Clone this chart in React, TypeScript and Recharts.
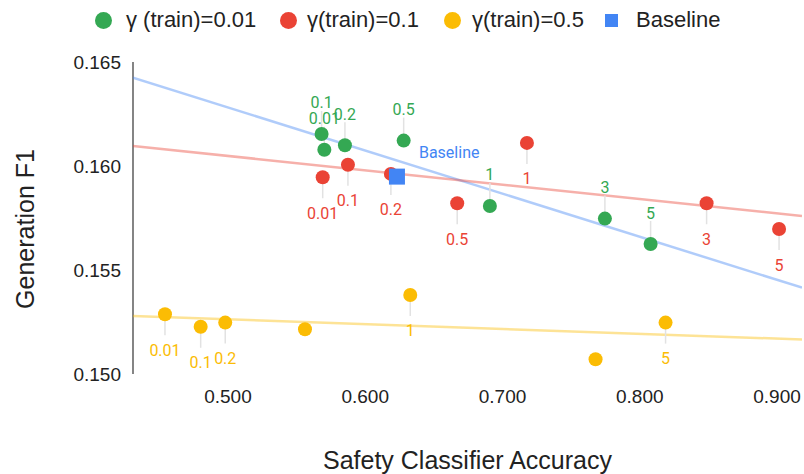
import { Scatter, ScatterChart, XAxis, YAxis } from "recharts";

// gamma (train) values, safety accuracy and generation F1 per series
const greenGamma = ["0.01", "0.1", "0.2", "0.5", "1", "3", "5"];
const greenAcc = [0.5702, 0.5682, 0.5852, 0.628, 0.6908, 0.7746, 0.8079];
const greenF1 = [0.16078, 0.16154, 0.161, 0.16122, 0.15808, 0.15747, 0.15625];

const redGamma = ["0.01", "0.1", "0.2", "0.5", "1", "3", "5"];
const redAcc = [0.569, 0.5874, 0.6187, 0.667, 0.7178, 0.8487, 0.9015];
const redF1 = [0.15946, 0.16006, 0.15962, 0.15821, 0.16111, 0.15821, 0.15697];

// labels that are hidden in the chart are left blank
const yellowGamma = ["0.01", "0.1", "0.2", "", "1", "", "5"];
const yellowAcc = [0.4541, 0.4801, 0.498, 0.5561, 0.6328, 0.7678, 0.8188];
const yellowF1 = [0.15287, 0.15227, 0.15247, 0.15215, 0.1538, 0.15071, 0.15247];

const baselineAcc = [0.6231];
const baselineF1 = [0.15949];

// trend line end points
const trendAcc = [0.4308, 0.9182];
const greenTrendF1 = [0.16425, 0.15415];
const redTrendF1 = [0.16096, 0.1576];
const yellowTrendF1 = [0.15279, 0.15166];

const xTicks = [0.5, 0.6, 0.7, 0.8, 0.9];
const yTicks = [0.15, 0.155, 0.16, 0.165];

const colors = {
  green: "#34A853",
  red: "#EA4335",
  yellow: "#FBBC04",
  blue: "#4285F4",
};

const legendItems = [
  { name: "γ (train)=0.01", color: colors.green, shape: "circle" },
  { name: "γ(train)=0.1", color: colors.red, shape: "circle" },
  { name: "γ(train)=0.5", color: colors.yellow, shape: "circle" },
  { name: "Baseline", color: colors.blue, shape: "square" },
];
const legendMarkerX = [103, 288, 452, 611];
const legendTextX = [126, 307, 472, 636];

const toPoints = (xs: number[], ys: number[], labels?: string[]) =>
  xs.map((x, i) => ({ x, y: ys[i], label: labels ? labels[i] : "" }));

const sansFont = "'Liberation Sans', Arial, sans-serif";
const labelFont = "Roboto, 'Noto Sans', sans-serif";

function makeDot(color: string, side: "above" | "below") {
  return (p: any) => {
    const { cx, cy, payload } = p;
    const label = payload?.label;
    const dir = side === "above" ? -1 : 1;
    return (
      <g>
        {label ? (
          <line
            x1={cx}
            y1={cy}
            x2={cx}
            y2={cy + dir * (side === "above" ? 23 : 21)}
            stroke="#e2e2e2"
            strokeWidth={1.5}
          />
        ) : null}
        <circle cx={cx} cy={cy} r={7} fill={color} />
        {label ? (
          <text
            x={cx}
            y={cy + (side === "above" ? -31 : 36)}
            textAnchor="middle"
            dominantBaseline="central"
            fill={color}
            fontSize={16}
            fontFamily={labelFont}
          >
            {label}
          </text>
        ) : null}
      </g>
    );
  };
}

const baselineShape = (p: any) => {
  const { cx, cy } = p;
  return (
    <g>
      <rect x={cx - 8} y={cy - 8} width={16} height={16} fill={colors.blue} />
      <text
        x={cx + 22}
        y={cy - 24}
        dominantBaseline="central"
        fill={colors.blue}
        fontSize={16}
        fontFamily={labelFont}
      >
        Baseline
      </text>
    </g>
  );
};

const noShape = () => <g />;

export default function App() {
  return (
    <div
      style={{
        position: "fixed",
        left: 0,
        top: 0,
        width: 804,
        height: 474,
        background: "#fff",
        fontFamily: sansFont,
      }}
    >
      {legendItems.map((item, i) => {
        const size = item.shape === "circle" ? 17 : 13;
        return (
          <div key={item.name}>
            <div
              style={{
                position: "absolute",
                left: legendMarkerX[i] - size / 2,
                top: 20.5 - size / 2,
                width: size,
                height: size,
                borderRadius: item.shape === "circle" ? "50%" : 0,
                background: item.color,
              }}
            />
            <div
              style={{
                position: "absolute",
                left: legendTextX[i],
                top: 7,
                fontSize: 22,
                lineHeight: "26px",
                color: "#222",
                whiteSpace: "nowrap",
              }}
            >
              {item.name}
            </div>
          </div>
        );
      })}
      <ScatterChart
        width={804}
        height={474}
        margin={{ top: 62, right: 2, bottom: 0, left: 0 }}
      >
        <XAxis
          type="number"
          dataKey="x"
          domain={[trendAcc[0], trendAcc[1]]}
          ticks={xTicks}
          tickFormatter={(v: number) => v.toFixed(3)}
          allowDataOverflow
          axisLine={false}
          tickLine={false}
          tickMargin={10}
          height={100}
          tick={{ fontSize: 19, fill: "#222", fontFamily: sansFont }}
          label={(props: any) => {
            const vb = props.viewBox || {};
            return (
              <text
                x={vb.x + vb.width / 2}
                y={vb.y + 86}
                textAnchor="middle"
                dominantBaseline="central"
                fontSize={25}
                fill="#222"
                fontFamily={sansFont}
              >
                Safety Classifier Accuracy
              </text>
            );
          }}
        />
        <YAxis
          type="number"
          dataKey="y"
          domain={[0.15, 0.165]}
          ticks={yTicks}
          tickFormatter={(v: number) => v.toFixed(3)}
          allowDataOverflow
          width={133}
          axisLine={{ stroke: "#333", strokeWidth: 1.2 }}
          tickLine={false}
          tickMargin={6}
          tick={{ fontSize: 19, fill: "#222", fontFamily: sansFont }}
          label={(props: any) => {
            const vb = props.viewBox || {};
            const cy = vb.y + vb.height / 2 + 11;
            return (
              <text
                x={25}
                y={cy}
                transform={`rotate(-90 25 ${cy})`}
                textAnchor="middle"
                dominantBaseline="central"
                fontSize={25}
                fill="#222"
                fontFamily={sansFont}
              >
                Generation F1
              </text>
            );
          }}
        />
        <Scatter
          data={toPoints(trendAcc, greenTrendF1)}
          line={{ stroke: colors.blue, strokeOpacity: 0.42, strokeWidth: 2.5 }}
          shape={noShape}
          isAnimationActive={false}
        />
        <Scatter
          data={toPoints(trendAcc, redTrendF1)}
          line={{ stroke: colors.red, strokeOpacity: 0.42, strokeWidth: 2.5 }}
          shape={noShape}
          isAnimationActive={false}
        />
        <Scatter
          data={toPoints(trendAcc, yellowTrendF1)}
          line={{ stroke: colors.yellow, strokeOpacity: 0.42, strokeWidth: 2.5 }}
          shape={noShape}
          isAnimationActive={false}
        />
        <Scatter
          data={toPoints(greenAcc, greenF1, greenGamma)}
          shape={makeDot(colors.green, "above")}
          isAnimationActive={false}
        />
        <Scatter
          data={toPoints(redAcc, redF1, redGamma)}
          shape={makeDot(colors.red, "below")}
          isAnimationActive={false}
        />
        <Scatter
          data={toPoints(yellowAcc, yellowF1, yellowGamma)}
          shape={makeDot(colors.yellow, "below")}
          isAnimationActive={false}
        />
        <Scatter
          data={toPoints(baselineAcc, baselineF1)}
          shape={baselineShape}
          isAnimationActive={false}
        />
      </ScatterChart>
    </div>
  );
}
